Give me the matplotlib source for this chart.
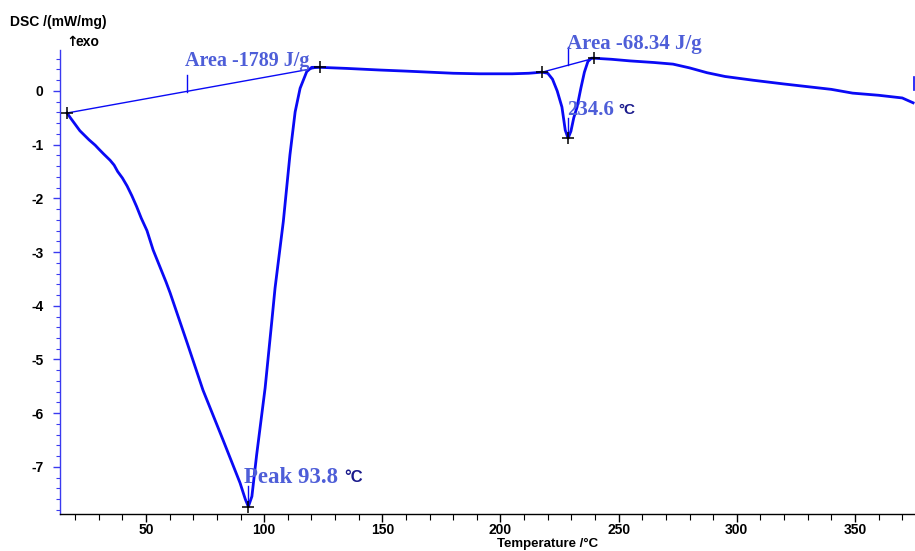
import matplotlib
matplotlib.use("Agg")
import matplotlib.pyplot as plt
from matplotlib.ticker import MultipleLocator

plt.rcParams["axes.unicode_minus"] = False

# ---- data ----
temperature = [16.6, 18, 20, 22, 25.9, 28.5, 30, 32, 34.8, 36.5, 38, 40, 42, 44, 46,
               48, 50.4, 53, 58.5, 60.2, 67.4, 74.1, 82.6, 89.8, 92.0, 93.3, 94.8,
               96.8, 100.4, 103.2, 104.6, 108.1, 110.9, 113.1, 115.2, 118.0, 120.1,
               123.6, 135, 149, 160, 170, 180, 191, 205, 212, 217.6, 220, 222, 224,
               226, 227.4, 228.6, 229.8, 231, 232.4, 234, 235.5, 237, 238.5, 239.6,
               247, 254.8, 265, 273, 280, 287.4, 295, 306.9, 320, 332, 340, 349, 360,
               370, 374.6]
dsc = [-0.41, -0.50, -0.62, -0.74, -0.91, -1.01, -1.08, -1.17, -1.29, -1.38, -1.50,
       -1.62, -1.77, -1.95, -2.15, -2.37, -2.60, -2.96, -3.56, -3.76, -4.69, -5.57,
       -6.50, -7.30, -7.60, -7.74, -7.55, -6.78, -5.53, -4.30, -3.67, -2.43, -1.19,
       -0.39, 0.05, 0.36, 0.44, 0.44, 0.42, 0.39, 0.37, 0.35, 0.33, 0.32, 0.32, 0.33,
       0.35, 0.33, 0.22, 0.00, -0.30, -0.73, -0.88, -0.75, -0.50, -0.30, 0.05, 0.35,
       0.55, 0.61, 0.61, 0.59, 0.56, 0.53, 0.50, 0.43, 0.34, 0.27, 0.20, 0.13, 0.07,
       0.03, -0.04, -0.08, -0.13, -0.22]

# integration baselines (start, end)
base1_t = [16.6, 123.6]
base1_y = [-0.41, 0.44]
base2_t = [217.6, 239.6]
base2_y = [0.35, 0.61]

# characteristic points marked with "+"
marker_t = [16.6, 123.6, 93.3, 217.6, 239.6, 228.6]
marker_y = [-0.41, 0.44, -7.74, 0.35, 0.61, -0.88]

x_ticks = [50, 100, 150, 200, 250, 300, 350]
y_ticks = [0, -1, -2, -3, -4, -5, -6, -7]

area1_label = "Area -1789 J/g"
area2_label = "Area -68.34 J/g"
peak1_label = "Peak 93.8"
peak2_label = "234.6"

# ---- styling ----
curve_c = "#0A0AF5"
label_c = "#4E5ED8"
navy = "#1A1A8C"
serif = ["Liberation Serif", "DejaVu Serif"]
sans = ["Liberation Sans", "DejaVu Sans"]

fig = plt.figure(figsize=(9.15, 5.51), dpi=100)
ax = fig.add_axes([60/915, 37/551, 855/915, 464/551])
ax.set_xlim(13.6, 375.4)
ax.set_ylim(-7.877, 0.763)

ax.plot(temperature, dsc, color=curve_c, lw=2.0, zorder=3)
ax.plot(base1_t, base1_y, color=curve_c, lw=1.0, zorder=2)
ax.plot(base2_t, base2_y, color=curve_c, lw=1.0, zorder=2)
ax.plot(marker_t, marker_y, ls="none", marker="+", ms=8, mew=1.1, color="black", zorder=4)

# annotation lines
ax.plot([67.4, 67.4], [-0.02, 0.30], color=curve_c, lw=1.0)
ax.plot([228.6, 228.6], [0.48, 0.82], color=curve_c, lw=1.0, clip_on=False)
ax.plot([228.6, 228.6], [-0.86, -0.50], color=curve_c, lw=1.0)
ax.plot([93.3, 93.3], [-7.72, -7.35], color=curve_c, lw=1.0)
ax.plot([374.8, 374.8], [0.02, 0.26], color=curve_c, lw=1.2, clip_on=False)

# annotation texts
ax.text(66.5, 0.56, area1_label, family=serif, weight="bold", fontsize=14.5,
        color=label_c, ha="left", va="center")
ax.text(228.2, 0.88, area2_label, family=serif, weight="bold", fontsize=15,
        color=label_c, ha="left", va="center", clip_on=False)
ax.text(228.2, -0.36, peak2_label, family=serif, weight="bold", fontsize=15,
        color=label_c, ha="left", va="center")
ax.text(250.0, -0.36, "°C", family=sans, weight="bold", fontsize=11,
        color=navy, ha="left", va="center")
ax.text(91.5, -7.20, peak1_label, family=serif, weight="bold", fontsize=16.5,
        color=label_c, ha="left", va="center")
ax.text(133.8, -7.20, "°C", family=sans, weight="bold", fontsize=12,
        color=navy, ha="left", va="center")

# axes styling
for s in ("top", "right"):
    ax.spines[s].set_visible(False)
ax.spines["left"].set_color("#3A3AF0")
ax.spines["left"].set_linewidth(1.0)
ax.spines["bottom"].set_color("black")
ax.spines["bottom"].set_linewidth(1.0)

ax.set_xticks(x_ticks)
ax.set_yticks(y_ticks)
ax.xaxis.set_minor_locator(MultipleLocator(10))
ax.yaxis.set_minor_locator(MultipleLocator(0.2))
ax.tick_params(axis="x", which="major", direction="out", length=6, width=1, color="black", pad=0.5)
ax.tick_params(axis="x", which="minor", direction="out", length=4, width=0.8, color="black")
ax.tick_params(axis="y", which="major", direction="out", length=5, width=1, color="#3A3AF0", pad=7)
ax.tick_params(axis="y", which="minor", direction="out", length=3, width=0.8, color="#3A3AF0")
for lab in ax.get_xticklabels() + ax.get_yticklabels():
    lab.set_family(sans)
    lab.set_fontweight("bold")
    lab.set_fontsize(10)

fig.text(10/915, 1 - 22/551, "DSC /(mW/mg)", family=sans, weight="bold",
         fontsize=10, ha="left", va="center")
fig.text(66/915, 1 - 42/551, "↑", family=["DejaVu Sans"],
         weight="bold", fontsize=10, ha="left", va="center")
fig.text(76/915, 1 - 42/551, "exo", family=sans,
         weight="bold", fontsize=10, ha="left", va="center")
fig.text(548/915, 1 - 543.5/551, "Temperature /°C", family=sans, weight="bold",
         fontsize=9.5, ha="center", va="center")

fig.savefig("out.png", dpi=100)
